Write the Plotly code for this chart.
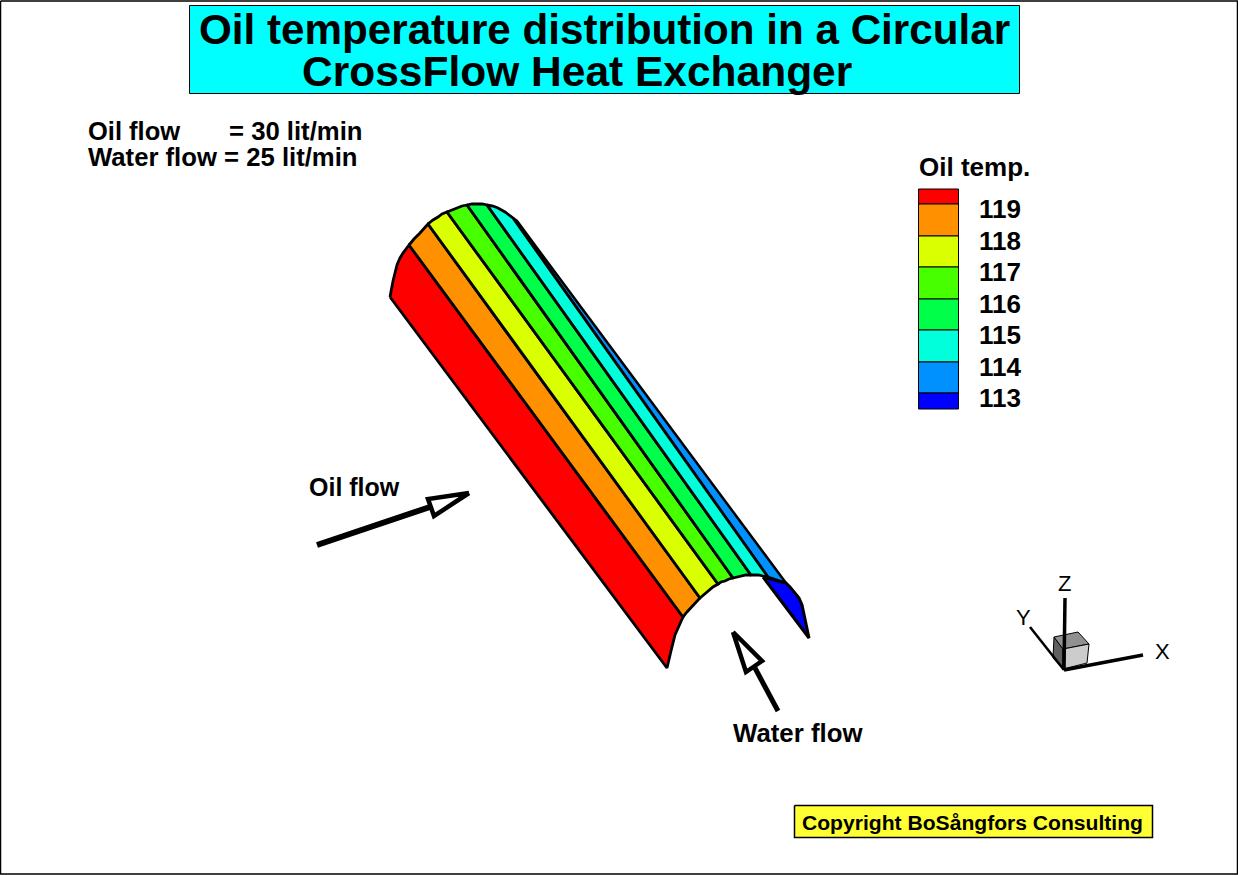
import plotly.graph_objects as go

# ---- surface edge (pixel space of the drawing) ----
strip_temps = ["119+", "118-119", "117-118", "116-117", "115-116", "114-115"]
strip_colors = ["#ff0000", "#ff9100", "#daff00", "#48ff00", "#00ff48", "#00ffda"]
far_x = [390, 393, 397, 400, 403, 406, 409, 414, 420, 424, 428, 433, 438, 442, 447, 452, 457, 462, 467, 472, 477, 482, 487, 493, 498, 505, 513]
far_y = [297, 281, 265, 258, 253, 249, 245, 239, 233, 228, 224, 220, 217, 214, 212, 210, 208, 206, 205, 204, 204, 204, 205, 206, 208, 212, 218]
near_x = [667, 671, 675, 679, 683, 687, 692, 696, 700, 704, 708, 713, 718, 721, 725, 729, 733, 737, 742, 746, 751, 754, 758, 763, 768]
near_y = [668, 651, 635, 626, 617, 612, 607, 602, 598, 594, 591, 587, 584, 582, 581, 579, 578, 577, 576, 575, 575, 575, 575, 576, 577]
strip_breaks_far = [0, 6, 10, 14, 18, 22, 26]
strip_breaks_near = [0, 4, 8, 12, 16, 20, 24]
light_blue_x = [513, 517, 786, 768]
light_blue_y = [218, 221, 583, 577]
light_blue_color = "#0091ff"
dark_blue_x = [763, 786, 790, 795, 799, 802, 809]
dark_blue_y = [577, 583, 587, 593, 598, 605, 638]
dark_blue_color = "#0000ff"

# ---- contour legend ----
legend_title = "Oil temp."
legend_edges = [189, 204, 236, 267, 299, 330, 362, 393, 409]
legend_colors = ["#ff0000", "#ff9100", "#daff00", "#48ff00", "#00ff48", "#00ffda", "#0091ff", "#0000ff"]
legend_labels = ["119", "118", "117", "116", "115", "114", "113"]
legend_label_y = [209, 241, 272, 304, 335, 367, 398]

# ---- flow arrows ----
oil_shaft_x, oil_shaft_y = [317, 430], [545, 507]
oil_head_x, oil_head_y = [469, 428, 434], [493, 499, 516]
water_shaft_x, water_shaft_y = [778, 755], [711, 668]
water_head_x, water_head_y = [733, 746, 762], [632, 672, 661]

# ---- axis triad ----
triad_origin = (1064, 670)
triad_x_end = (1143, 655)
triad_y_end = (1030, 627)
triad_z_end = (1065, 598)
cube_front_x, cube_front_y = [1063, 1089, 1087, 1063], [649, 644, 663, 669]
cube_top_x, cube_top_y = [1054, 1078, 1089, 1063], [637, 632, 644, 649]
cube_side_x, cube_side_y = [1054, 1063, 1063, 1053], [637, 649, 669, 658]

# ---- texts ----
title_line_1 = "Oil temperature distribution in a Circular"
title_line_2 = "CrossFlow Heat Exchanger"
info_rows = [("Oil flow", 88, 131), ("= 30 lit/min", 229, 131), ("Water flow = 25 lit/min", 88, 157)]
copyright_text = "Copyright BoSångfors Consulting"

FONT = "Liberation Sans"
fig = go.Figure()


def poly(x, y, fill, lw=2.0, line="#000000"):
    fig.add_trace(go.Scatter(x=list(x) + [x[0]], y=list(y) + [y[0]], mode="lines", fill="toself",
                             fillcolor=fill, line=dict(color=line, width=lw), hoverinfo="skip"))


def seg(x, y, lw, color="#000000"):
    fig.add_trace(go.Scatter(x=list(x), y=list(y), mode="lines", line=dict(color=color, width=lw),
                             hoverinfo="skip"))


# outer frame and boxes
poly([0.5, 1237.5, 1237.5, 0.5], [1, 1, 874, 874], "rgba(255,255,255,0)", 1.5)
poly([189.5, 1019.5, 1019.5, 189.5], [5.5, 5.5, 93.5, 93.5], "#00ffff", 1)
poly([794.5, 1152.5, 1152.5, 794.5], [805.5, 805.5, 837.5, 837.5], "#ffff33", 1.5)

# surface strips
poly(dark_blue_x, dark_blue_y, dark_blue_color, 3)
poly(light_blue_x, light_blue_y, light_blue_color, 2.5)
for i, col in enumerate(strip_colors):
    fa, fb = strip_breaks_far[i], strip_breaks_far[i + 1] + 1
    na, nb = strip_breaks_near[i], strip_breaks_near[i + 1] + 1
    xs = far_x[fa:fb] + near_x[na:nb][::-1]
    ys = far_y[fa:fb] + near_y[na:nb][::-1]
    poly(xs, ys, col, 2.8)

# legend
for i, col in enumerate(legend_colors):
    t, b = legend_edges[i], legend_edges[i + 1]
    poly([918.5, 958.5, 958.5, 918.5], [t, t, b, b], col, 1)

# arrows
seg(oil_shaft_x, oil_shaft_y, 6)
poly(oil_head_x, oil_head_y, "#ffffff", 4.5)
seg(water_shaft_x, water_shaft_y, 5)
poly(water_head_x, water_head_y, "#ffffff", 4.5)

# triad
poly(cube_side_x, cube_side_y, "#606060", 1)
poly(cube_top_x, cube_top_y, "#909090", 1)
poly(cube_front_x, cube_front_y, "#cccccc", 1)
for end, lw in ((triad_x_end, 3.5), (triad_y_end, 2.5), (triad_z_end, 3.5)):
    seg([triad_origin[0], end[0]], [triad_origin[1], end[1]], lw)


def label(text, x, y, size, bold=True, anchor="left"):
    fig.add_annotation(x=x, y=y, text=f"<b>{text}</b>" if bold else text, showarrow=False,
                       xanchor=anchor, yanchor="middle", xshift=0, borderpad=0, borderwidth=0,
                       font=dict(family=FONT, size=size, color="#000000"))


label(title_line_1, 199, 29, 42.2)
label(title_line_2, 302, 71, 42.5)
label(info_rows[0][0], info_rows[0][1], info_rows[0][2], 25.5)
label(info_rows[1][0], info_rows[1][1], info_rows[1][2], 25.7)
label(info_rows[2][0], info_rows[2][1], info_rows[2][2], 25.7)
label(legend_title, 919, 167, 26)
for text, y in zip(legend_labels, legend_label_y):
    label(text, 979, y, 26)
label("Oil flow", 309, 487, 25)
label("Water flow", 733, 733, 25.8)
label(copyright_text, 802, 822, 21.1)
label("Z", 1064, 583, 22, bold=False, anchor="center")
label("Y", 1023, 617, 22, bold=False, anchor="center")
label("X", 1162, 651, 22, bold=False, anchor="center")

fig.update_layout(width=1238, height=875, margin=dict(l=0, r=0, t=0, b=0, pad=0), autosize=False,
                  paper_bgcolor="#ffffff", plot_bgcolor="#ffffff", showlegend=False, hovermode=False,
                  xaxis=dict(range=[0, 1238], visible=False, fixedrange=True),
                  yaxis=dict(range=[875, 0], visible=False, fixedrange=True))

fig.write_html("out.html", config={"displayModeBar": False, "staticPlot": True},
               post_script="document.body.style.margin='0';document.body.style.overflow='hidden';")
